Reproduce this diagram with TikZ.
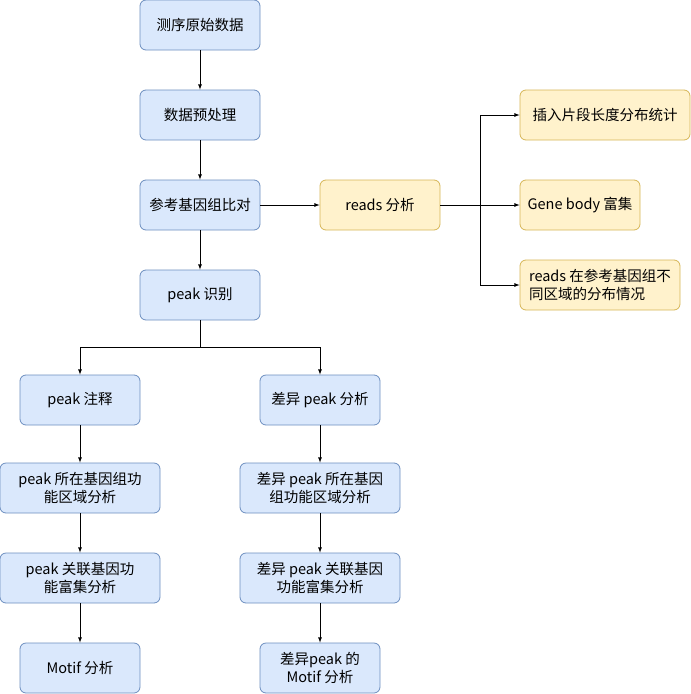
\documentclass[tikz,border=0pt]{standalone}
\usepackage{fontspec}
\setmainfont{Noto Sans CJK SC}
\begin{document}
\begin{tikzpicture}[x=1pt,y=-1pt,
 base/.style={draw,rounded corners=6pt,line width=0.8pt,align=center,inner sep=2pt,font=\fontsize{14.5}{18}\selectfont,minimum height=50pt},
 b/.style={base,fill={rgb,255:red,218;green,232;blue,252},draw={rgb,255:red,108;green,142;blue,191}},
 yl/.style={base,fill={rgb,255:red,255;green,242;blue,204},draw={rgb,255:red,214;green,182;blue,86}},
 ar/.style={-latex,line width=0.8pt}]
\useasboundingbox (0,0) rectangle (691,694);
\node[b,minimum width=120pt] (n1) at (200,25) {测序原始数据};
\node[b,minimum width=120pt] (n2) at (200,115) {数据预处理};
\node[b,minimum width=120pt] (n3) at (200,205) {参考基因组比对};
\node[b,minimum width=120pt] (n4) at (200,295) {peak 识别};
\node[yl,minimum width=120pt] (r) at (380,205) {reads 分析};
\node[yl,minimum width=170pt] (y1) at (605,115) {插入片段长度分布统计};
\node[yl,minimum width=120pt] (y2) at (580,205) {Gene body 富集};
\node[yl,minimum width=160pt,align=left] (y3) at (600,285) {reads 在参考基因组不\\同区域的分布情况};
\node[b,minimum width=120pt] (a1) at (80,400) {peak 注释};
\node[b,minimum width=160pt] (a2) at (80,488) {peak 所在基因组功\\能区域分析};
\node[b,minimum width=160pt] (a3) at (80,578) {peak 关联基因功\\能富集分析};
\node[b,minimum width=120pt] (a4) at (80,668) {Motif 分析};
\node[b,minimum width=120pt] (c1) at (320,400) {差异 peak 分析};
\node[b,minimum width=160pt] (c2) at (320,488) {差异 peak 所在基因\\组功能区域分析};
\node[b,minimum width=160pt] (c3) at (320,578) {差异 peak 关联基因\\功能富集分析};
\node[b,minimum width=120pt] (c4) at (320,668) {差异peak 的\\Motif 分析};
\coordinate (j) at (480,205);
\coordinate (k) at (200,347);
\draw[ar] (n1)--(n2);
\draw[ar] (n2)--(n3);
\draw[ar] (n3)--(n4);
\draw[ar] (n3)--(r);
\draw[ar] (r)--(y2);
\draw[ar] (j)|-(y1);
\draw[ar] (j)|-(y3.west);
\draw[line width=0.8pt] (n4)--(k);
\draw[ar] (k)-|(a1);
\draw[ar] (k)-|(c1);
\draw[ar] (a1)--(a2);
\draw[ar] (a2)--(a3);
\draw[ar] (a3)--(a4);
\draw[ar] (c1)--(c2);
\draw[ar] (c2)--(c3);
\draw[ar] (c3)--(c4);
\end{tikzpicture}
\end{document}
